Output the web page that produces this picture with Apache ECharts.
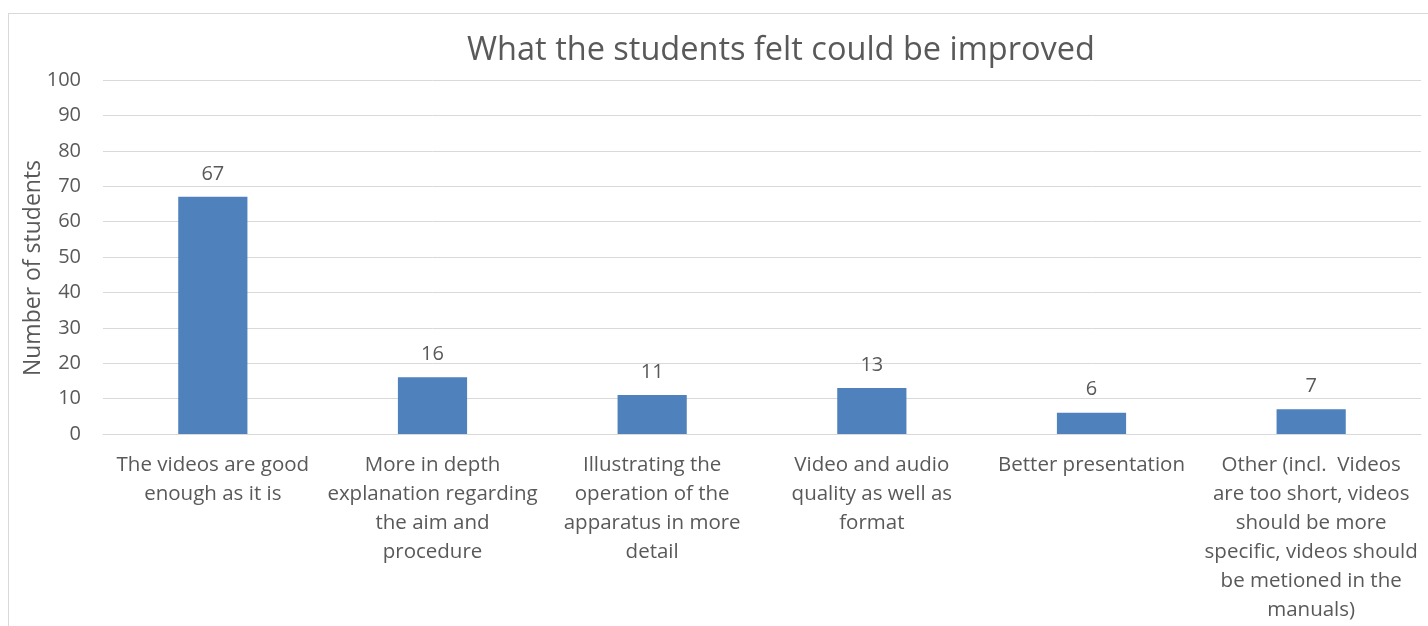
<!DOCTYPE html>
<html>
<head>
<meta charset="utf-8">
<script src="https://cdn.jsdelivr.net/npm/echarts@6/dist/echarts.min.js"></script>
<style>
  html, body { margin: 0; padding: 0; background: #fff; }
  #frame { position: absolute; left: 8px; top: 13px; width: 1440px; height: 640px;
           border: 1px solid #d9d9d9; box-sizing: border-box; }
  #chart { position: absolute; left: 0; top: 0; width: 1428px; height: 626px; }
</style>
</head>
<body>
<div id="frame"></div>
<div id="chart"></div>
<script>
// Survey responses: suggested improvements for the lab videos
const categories = [
  'The videos are good\nenough as it is',
  'More in depth\nexplanation regarding\nthe aim and\nprocedure',
  'Illustrating the\noperation of the\napparatus in more\ndetail',
  'Video and audio\nquality as well as\nformat',
  'Better presentation',
  'Other (incl.  Videos\nare too short, videos\nshould be more\nspecific, videos should\nbe metioned in the\nmanuals)'
];
const studentCounts = [67, 16, 11, 13, 6, 7];
const yTicks = { min: 0, max: 100, interval: 10 };

const textColor = '#595959';
const gridColor = '#d9d9d9';
const font = '"Open Sans", "Noto Sans", sans-serif';

const chart = echarts.init(document.getElementById('chart'));
chart.setOption({
  animation: false,
  title: {
    text: 'What the students felt could be improved',
    left: 776, top: 29, textAlign: 'center',
    textStyle: { fontFamily: font, fontSize: 32.5, fontWeight: 'normal', color: textColor }
  },
  grid: { left: 103, right: 7, top: 80, bottom: 192, containLabel: false },
  xAxis: {
    type: 'category',
    data: categories,
    axisLine: { show: true, lineStyle: { color: gridColor, width: 1 } },
    axisTick: { show: false },
    axisLabel: {
      interval: 0, margin: 17, color: textColor,
      fontFamily: font, fontSize: 20.5, lineHeight: 29, align: 'center'
    }
  },
  yAxis: {
    type: 'value',
    min: yTicks.min, max: yTicks.max, interval: yTicks.interval,
    name: 'Number of students',
    nameLocation: 'middle', nameGap: 58, nameRotate: 90,
    nameMoveOverlap: false,
    nameTextStyle: { fontFamily: font, fontSize: 23, color: textColor, padding: [0, 22, 0, 0] },
    axisLine: { show: false },
    axisTick: { show: false },
    axisLabel: { color: textColor, fontFamily: font, fontSize: 20, margin: 22 },
    splitLine: { lineStyle: { color: gridColor, width: 1 } }
  },
  series: [{
    type: 'bar',
    data: studentCounts,
    barWidth: '31.5%',
    itemStyle: { color: '#4f81bd' },
    label: {
      show: true, position: 'top', distance: 13,
      color: textColor, fontFamily: font, fontSize: 20
    }
  }]
});
</script>
</body>
</html>
